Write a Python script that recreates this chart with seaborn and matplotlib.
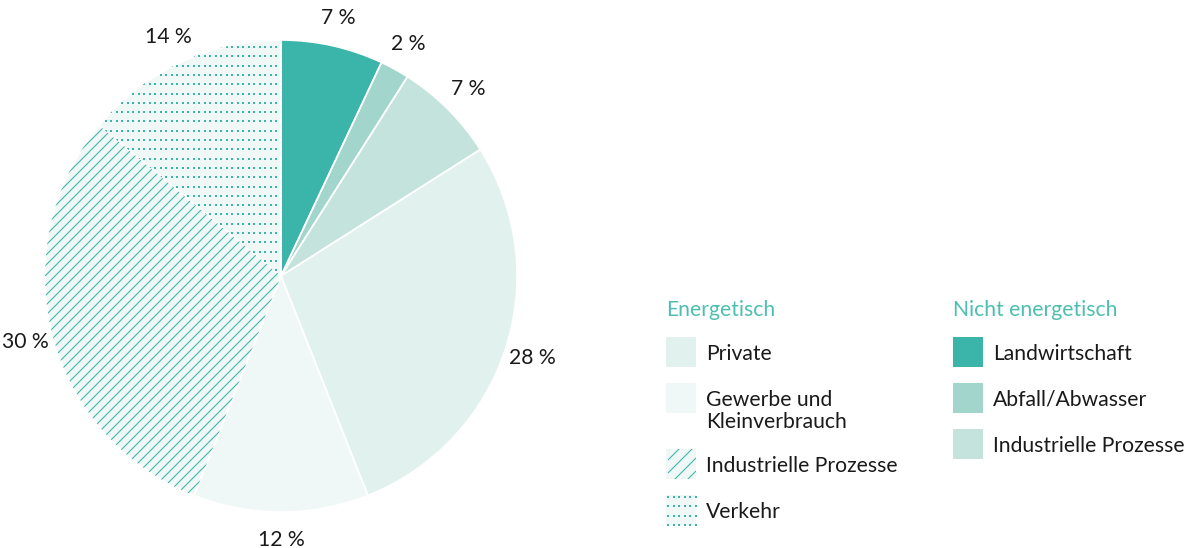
import numpy as np
import matplotlib
matplotlib.use("Agg")
import matplotlib.pyplot as plt
from matplotlib.patches import Rectangle
from matplotlib.collections import LineCollection
import seaborn as sns

# Treibhausgas-Anteile nach Quelle (im Uhrzeigersinn ab 12 Uhr)
categories = [
    "Landwirtschaft",
    "Abfall/Abwasser",
    "Industrielle Prozesse (nicht energetisch)",
    "Private",
    "Gewerbe und Kleinverbrauch",
    "Industrielle Prozesse (energetisch)",
    "Verkehr",
]
shares = [7, 2, 7, 28, 12, 30, 14]

# Legendengruppen
group_titles = ["Energetisch", "Nicht energetisch"]
energetisch_labels = ["Private", "Gewerbe und\nKleinverbrauch", "Industrielle Prozesse", "Verkehr"]
energetisch_keys = [3, 4, 5, 6]
nicht_labels = ["Landwirtschaft", "Abfall/Abwasser", "Industrielle Prozesse"]
nicht_keys = [0, 1, 2]

# Styles per category
TEAL = "#3bb5a9"
face_colors = ["#3bb5a9", "#a2d5cc", "#c4e3dd", "#e1f1ee", "#eff8f6", "#eff8f6", "#eff8f6"]
fill_styles = ["solid", "solid", "solid", "solid", "solid", "lines", "dots"]
TITLE_COLOR = "#4dbfb0"
TEXT_COLOR = "#1a1a1a"
FS = 15.2

sns.set_theme(style="white")
plt.rcParams["font.family"] = ["Lato", "DejaVu Sans"]

W, H = 1185, 548
fig = plt.figure(figsize=(W / 100, H / 100), dpi=100)

# Pie axes: centre (281, 276) px, radius 236 px
cx, cy, r = 281, 276, 236
ax = fig.add_axes([(cx - r) / W, (H - cy - r) / H, 2 * r / W, 2 * r / H])

pct_labels = [f"{v} %" for v in shares]
wedges, texts = ax.pie(
    shares,
    labels=pct_labels,
    colors=face_colors,
    startangle=90,
    counterclock=False,
    labeldistance=1.12,
    wedgeprops=dict(linewidth=0),
    textprops=dict(fontsize=FS, color=TEXT_COLOR),
)
for t in texts:
    t.set_horizontalalignment("center")
    t.set_verticalalignment("center")


def add_fill(axis, patch, style, px, bounds, rising, line_step):
    """Texture a patch with diagonal lines or a dot grid (px = one pixel in data units)."""
    x0, x1, y0, y1 = bounds
    z = patch.get_zorder() + 0.5
    if style == "lines":
        step = line_step * px
        span = (x1 - x0) + (y1 - y0)
        offsets = np.arange(-span, span, step)
        sgn = 1 if rising else -1
        segs = [[(x0, y0 + c), (x1, y0 + c + sgn * (x1 - x0))] for c in offsets]
        lc = LineCollection(segs, colors=TEAL, linewidths=0.75, zorder=z)
        axis.add_collection(lc)
        lc.set_clip_path(patch)
    elif style == "dots":
        gx, gy = np.meshgrid(np.arange(x0, x1, 5.5 * px), np.arange(y0, y1, 9.3 * px))
        sc = axis.scatter(gx.ravel(), gy.ravel(), s=1.8, marker="s", color=TEAL,
                          linewidths=0, zorder=z)
        sc.set_clip_path(patch)


for w, style in zip(wedges, fill_styles):
    add_fill(ax, w, style, 1.0 / r, (-1.0, 1.0, -1.0, 1.0), rising=True, line_step=10)

# White separators between slices
sep, _ = ax.pie(
    shares,
    startangle=90,
    counterclock=False,
    colors=["none"] * len(shares),
    wedgeprops=dict(linewidth=1.2, edgecolor="white", fill=False),
)
ax.set_xlim(-1, 1)
ax.set_ylim(-1, 1)
ax.set_aspect("equal")
ax.axis("off")

# Legend drawn in pixel coordinates
lg = fig.add_axes([0, 0, 1, 1])
lg.set_xlim(0, W)
lg.set_ylim(H, 0)
lg.axis("off")
lg.patch.set_alpha(0)

box = 30
col_x = [666, 953]
groups = [(energetisch_labels, energetisch_keys), (nicht_labels, nicht_keys)]
for gx0, title, (labels, keys) in zip(col_x, group_titles, groups):
    lg.text(gx0, 316.5, title, fontsize=FS, color=TITLE_COLOR, va="baseline", ha="left")
    top = 337
    for lab, k in zip(labels, keys):
        rect = Rectangle((gx0, top), box, box, facecolor=face_colors[k], linewidth=0)
        lg.add_patch(rect)
        # texture inside the legend key (y axis runs downward here)
        add_fill(lg, rect, fill_styles[k], 1.0, (gx0 + 2, gx0 + box, top + 2, top + box),
                 rising=False, line_step=13)
        lg.text(gx0 + 40, top + 6.5, lab, fontsize=FS, color=TEXT_COLOR,
                va="top", ha="left", linespacing=1.16)
        top += 46 + 20 * lab.count("\n")

fig.savefig("out.png", dpi=100)
